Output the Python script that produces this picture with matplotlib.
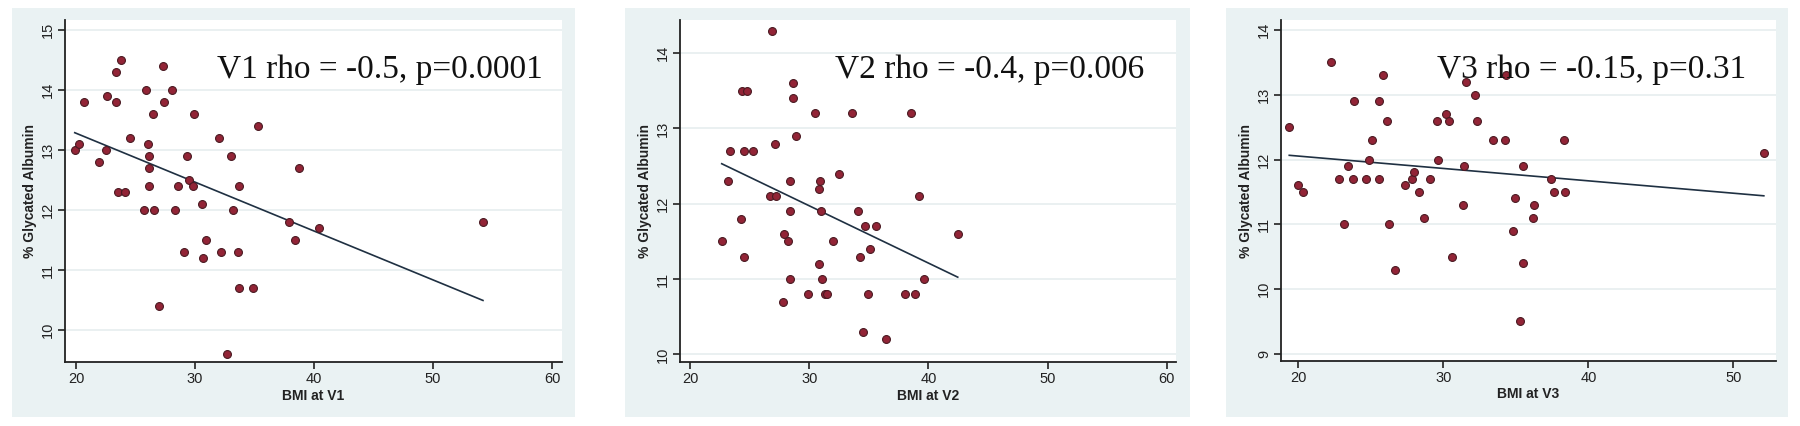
import numpy as np
import matplotlib
matplotlib.use("Agg")
import matplotlib.pyplot as plt
from matplotlib.patches import Rectangle

# ---------------- data ----------------
bmi_v1 = [19.9, 20.25, 20.7, 21.96, 22.55, 22.6, 23.4, 23.8, 23.4, 23.5, 24.1, 24.5, 25.85, 26.05,
          26.1, 26.1, 26.1, 25.7, 26.6, 26.5, 26.95, 27.3, 27.4, 28.1, 28.3, 28.6, 29.3, 29.1, 29.5,
          29.85, 29.9, 30.6, 30.7, 30.9, 32.0, 32.2, 32.7, 33.0, 33.2, 33.6, 33.7, 33.7, 34.9, 35.3,
          37.9, 38.4, 38.75, 40.45, 54.2]
ga_v1 = [13.0, 13.1, 13.8, 12.8, 13.0, 13.9, 14.3, 14.5, 13.8, 12.3, 12.3, 13.2, 14.0, 13.1,
         12.9, 12.7, 12.4, 12.0, 12.0, 13.6, 10.4, 14.4, 13.8, 14.0, 12.0, 12.4, 12.9, 11.3, 12.5,
         12.4, 13.6, 12.1, 11.2, 11.5, 13.2, 11.3, 9.6, 12.9, 12.0, 11.3, 12.4, 10.7, 10.7, 13.4,
         11.8, 11.5, 12.7, 11.7, 11.8]

bmi_v2 = [22.66, 23.17, 23.36, 24.3, 24.4, 24.76, 24.57, 24.5, 25.27, 26.9, 26.7, 27.2, 27.1, 27.8,
          27.9, 28.2, 28.4, 28.4, 28.4, 28.6, 28.6, 28.85, 29.9, 30.5, 30.8, 30.8, 30.9, 30.95, 31.1,
          31.3, 31.5, 32.0, 32.5, 33.6, 34.1, 34.3, 34.5, 34.7, 34.9, 35.07, 35.6, 36.4, 38.0, 38.5,
          39.2, 42.46, 39.6, 38.9]
ga_v2 = [11.5, 12.3, 12.7, 11.8, 13.5, 13.5, 11.3, 12.7, 12.7, 14.3, 12.1, 12.1, 12.8, 10.7,
         11.6, 11.5, 11.9, 12.3, 11.0, 13.6, 13.4, 12.9, 10.8, 13.2, 11.2, 12.2, 12.3, 11.9, 11.0,
         10.8, 10.8, 11.5, 12.4, 13.2, 11.9, 11.3, 10.3, 11.7, 10.8, 11.4, 11.7, 10.2, 10.8, 13.2,
         12.1, 11.6, 11.0, 10.8]

bmi_v3 = [19.38, 19.95, 20.34, 22.27, 22.78, 23.17, 23.46, 23.74, 23.85, 24.7, 24.9, 25.1, 25.6,
          25.6, 25.85, 26.1, 26.26, 26.7, 27.36, 27.86, 27.97, 28.3, 28.67, 29.06, 29.56, 29.65,
          30.2, 30.4, 30.6, 31.35, 31.4, 31.57, 32.2, 32.3, 33.4, 34.25, 34.3, 35.5, 34.93, 36.24,
          36.2, 34.8, 35.5, 35.3, 37.45, 37.6, 38.4, 38.3, 52.1]
ga_v3 = [12.5, 11.6, 11.5, 13.5, 11.7, 11.0, 11.9, 11.7, 12.9, 11.7, 12.0, 12.3, 12.9,
         11.7, 13.3, 12.6, 11.0, 10.3, 11.6, 11.7, 11.8, 11.5, 11.1, 11.7, 12.6, 12.0,
         12.7, 12.6, 10.5, 11.3, 11.9, 13.2, 13.0, 12.6, 12.3, 12.3, 13.3, 11.9, 11.4, 11.3,
         11.1, 10.9, 10.4, 9.5, 11.7, 11.5, 11.5, 12.3, 12.1]

annotations = ["V1 rho = -0.5, p=0.0001", "V2 rho = -0.4, p=0.006", "V3 rho = -0.15, p=0.31"]
xlabels = ["BMI at V1", "BMI at V2", "BMI at V3"]
ylabel = "% Glycated Albumin"
xticks_list = [[20, 30, 40, 50, 60], [20, 30, 40, 50, 60], [20, 30, 40, 50]]
yticks_list = [[10, 11, 12, 13, 14, 15], [10, 11, 12, 13, 14], [9, 10, 11, 12, 13, 14]]

# ---------------- layout ----------------
W, H = 1800, 426
fig = plt.figure(figsize=(W / 100, H / 100), dpi=100)
fig.patch.set_facecolor("white")

def fx(px):
    return px / W

def fy(py):
    return 1 - py / H

panels = [
    dict(outer=(12, 575), ax=(65, 562, 20, 362), xlim=(19.08, 60.84), ylim=(9.47, 15.17), txt=(217, 78)),
    dict(outer=(625, 1190), ax=(680, 1176, 20, 362), xlim=(19.16, 60.77), ylim=(9.9, 14.44), txt=(835, 78)),
    dict(outer=(1226, 1788), ax=(1281, 1776, 20, 361), xlim=(18.81, 52.94), ylim=(8.89, 14.154), txt=(1437, 78)),
]
xs = [bmi_v1, bmi_v2, bmi_v3]
ys = [ga_v1, ga_v2, ga_v3]

bg = "#EAF2F3"
marker_col = "#922436"
marker_edge = "#4A1A22"
line_col = "#1F3042"
sans = ["Liberation Sans", "DejaVu Sans"]
serif = ["Liberation Serif", "DejaVu Serif"]

for i, p in enumerate(panels):
    ox0, ox1 = p["outer"]
    rect = Rectangle((fx(ox0), fy(417)), fx(ox1) - fx(ox0), fy(8) - fy(417),
                     transform=fig.transFigure, facecolor=bg, edgecolor="none", zorder=-10)
    fig.add_artist(rect)
    l, r, t, b = p["ax"]
    ax = fig.add_axes([fx(l), fy(b), fx(r) - fx(l), fy(t) - fy(b)])
    ax.set_zorder(1)
    ax.set_facecolor("white")
    ax.set_xlim(*p["xlim"])
    ax.set_ylim(*p["ylim"])
    for s in ["top", "right"]:
        ax.spines[s].set_visible(False)
    for s in ["left", "bottom"]:
        ax.spines[s].set_color("#222222")
        ax.spines[s].set_linewidth(1.3)
    ax.set_xticks(xticks_list[i])
    ax.set_yticks(yticks_list[i])
    ax.tick_params(axis="both", direction="out", length=5, width=1.2, color="#222222",
                   labelsize=10.5, labelcolor="#222222", pad=2)
    ax.set_yticklabels([str(v) for v in yticks_list[i]], rotation=90, va="center", family=sans)
    ax.set_xticklabels([str(v) for v in xticks_list[i]], family=sans)
    ax.grid(axis="y", color="#E4ECEE", linewidth=1.1)
    ax.set_axisbelow(True)

    x = np.array(xs[i])
    y = np.array(ys[i])
    slope, intercept = np.polyfit(x, y, 1)
    xl = np.array([x.min(), x.max()])
    ax.plot(xl, intercept + slope * xl, color=line_col, linewidth=1.2, zorder=2)
    ax.scatter(x, y, s=32, color=marker_col, edgecolors=marker_edge, linewidths=0.8, zorder=3)

    ax.set_xlabel(xlabels[i], family=sans, fontsize=10, fontweight="bold", color="#222222", labelpad=2)
    ax.set_ylabel(ylabel, family=sans, fontsize=10, fontweight="bold", color="#222222", labelpad=3)

    tx, tyb = p["txt"]
    ax.text(fx(tx), fy(tyb), annotations[i], transform=fig.transFigure, family=serif, fontsize=24,
            color="#111111", ha="left", va="baseline", zorder=5)

fig.savefig("out.png", dpi=100, facecolor="white")
